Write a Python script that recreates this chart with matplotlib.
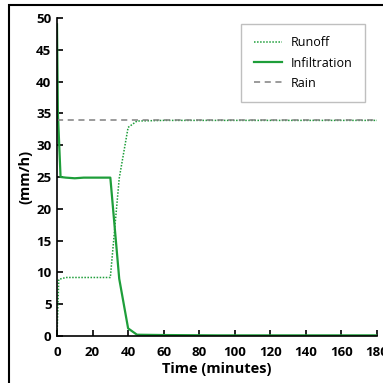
import matplotlib
matplotlib.use("Agg")
import matplotlib.pyplot as plt
from matplotlib.patches import Rectangle

plt.rcParams['font.family'] = ['Open Sans', 'DejaVu Sans']

# data
time_inf = [0, 0.5, 2, 5, 10, 15, 20, 25, 30, 35, 40, 45, 60, 90, 120, 150, 180]
infiltration = [49, 35, 25, 24.9, 24.8, 24.9, 24.9, 24.9, 24.9, 9.0, 1.2, 0.2, 0.15, 0.1, 0.1, 0.1, 0.1]
time_run = [0, 1, 5, 10, 15, 20, 25, 30, 35, 40, 45, 60, 90, 120, 150, 180]
runoff = [0, 8.9, 9.2, 9.2, 9.2, 9.2, 9.2, 9.2, 24.8, 32.8, 33.8, 33.9, 33.9, 33.9, 33.9, 33.9]
time_rain = [0, 180]
rain = [34, 34]
xticks = [0, 20, 40, 60, 80, 100, 120, 140, 160, 180]
yticks = [0, 5, 10, 15, 20, 25, 30, 35, 40, 45, 50]

green = '#1e9e3a'

fig = plt.figure(figsize=(3.83, 3.83), dpi=100)
ax = fig.add_axes([57/383, 47/383, 320/383, 318/383])

ax.plot(time_run, runoff, color=green, linestyle=(0, (1, 1)), linewidth=1.1, label='Runoff')
ax.plot(time_inf, infiltration, color=green, linestyle='-', linewidth=1.6, label='Infiltration')
ax.plot(time_rain, rain, color='#808080', linestyle=(0, (4, 3)), linewidth=1.1, label='Rain')

ax.set_xlim(0, 180)
ax.set_ylim(0, 50)
ax.set_xticks(xticks)
ax.set_yticks(yticks)
ax.spines['top'].set_visible(False)
ax.spines['right'].set_visible(False)
ax.spines['left'].set_linewidth(1.2)
ax.spines['bottom'].set_linewidth(1.2)
ax.tick_params(direction='in', length=4.5, width=1.2, labelsize=9.5)
ax.tick_params(axis='x', pad=7)
ax.tick_params(axis='y', pad=4)
for lab in ax.get_xticklabels() + ax.get_yticklabels():
    lab.set_fontweight('bold')
ax.set_xlabel('Time (minutes)', fontsize=10.5, fontweight='bold', labelpad=2)
ax.set_ylabel('(mm/h)', fontsize=10.5, fontweight='bold', labelpad=3)

leg = ax.legend(loc='upper left', bbox_to_anchor=(241/383, 1 - 24/383),
                bbox_transform=fig.transFigure, borderaxespad=0,
                fontsize=9, frameon=True, fancybox=False, edgecolor='#b0b0b0',
                handlelength=2.3, borderpad=1.0, labelspacing=0.57,
                handletextpad=0.7)
leg.get_frame().set_linewidth(1.0)

# outer frame around the chart
fig.patches.append(Rectangle((9/383, -0.1), 1.2, 1 - 5/383 + 0.1,
                             transform=fig.transFigure, fill=False,
                             edgecolor='black', linewidth=1.5))

fig.savefig('out.png', dpi=100)
